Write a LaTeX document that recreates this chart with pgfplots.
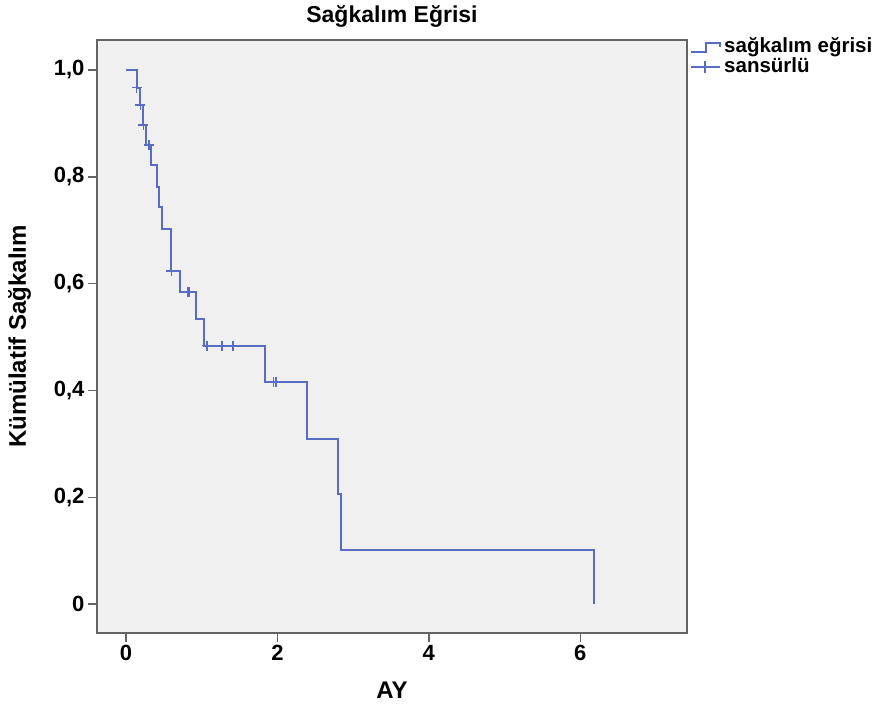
\documentclass[border=0pt]{standalone}
\usepackage{pgfplots}
\pgfplotsset{compat=1.18}
\usepackage{fontspec}
\setmainfont{Liberation Sans}
\definecolor{kmblue}{RGB}{88,108,196}
\definecolor{bggray}{RGB}{240,240,240}
\definecolor{framegray}{RGB}{100,100,100}

\begin{document}
\begin{tikzpicture}
\begin{axis}[
  scale only axis, width=590pt, height=593pt,
  xmin=-0.383, xmax=7.41, ymin=-0.054, ymax=1.056,
  axis background/.style={fill=bggray},
  axis line style={framegray, line width=1.5pt},
  xtick={0,2,4,6}, ytick={0,0.2,0.4,0.6,0.8,1.0},
  yticklabels={0,{0,2},{0,4},{0,6},{0,8},{1,0}},
  tick align=outside, major tick length=9pt,
  tick style={framegray, line width=1.5pt},
  xtick pos=bottom, ytick pos=left,
  /pgf/number format/assume math mode=true,
  ticklabel style={font=\fontsize{22}{24}\selectfont\bfseries},
  title={Sağkalım Eğrisi},
  every axis title shift=0pt,
  title style={font=\fontsize{23}{25}\selectfont\bfseries,
    at={(axis description cs:0.5,1.04)}, anchor=center},
  xlabel={AY}, ylabel={Kümülatif Sağkalım},
  label style={font=\fontsize{24}{26}\selectfont\bfseries},
  xlabel style={at={(axis description cs:0.5,-0.096)}, anchor=center},
  ylabel style={at={(axis description cs:-0.131,0.5)}, anchor=center, rotate=0},
  legend style={at={(axis description cs:1,1)}, anchor=north west, draw=none, fill=none,
    inner sep=0pt, xshift=3pt, yshift=3pt,
    font=\fontsize{20.5}{20.5}\selectfont\bfseries, row sep=0pt,
    nodes={text height=14pt, text depth=4pt, inner ysep=1pt, inner xsep=3pt}},
  legend cell align=left,
]
\addplot[kmblue, line width=2pt, const plot,
  legend image code/.code={\draw[kmblue, line width=2pt] (0pt,-5pt) -- (15pt,-5pt) -- (15pt,4pt) -- (29pt,4pt) -- (29pt,0pt);}]
coordinates {
(0,1) (0.14,0.967) (0.18,0.934) (0.22,0.897) (0.27,0.860) (0.33,0.822)
(0.41,0.781) (0.44,0.744) (0.47,0.703) (0.60,0.624) (0.71,0.584)
(0.93,0.534) (1.03,0.484) (1.84,0.415) (2.39,0.310) (2.80,0.207)
(2.84,0.102) (6.18,0.0)
};
\addlegendentry{sağkalım eğrisi}
\addplot[only marks, mark=+, mark size=5pt, kmblue, mark options={line width=1.6pt},
  legend image code/.code={\draw[kmblue, line width=1.8pt] (0pt,0pt) -- (29pt,0pt); \draw[kmblue, line width=1.8pt] (14pt,-6pt) -- (14pt,6pt);}]
coordinates {
(0.14,0.967) (0.19,0.934) (0.23,0.897) (0.30,0.860) (0.60,0.624)
(0.82,0.584) (0.84,0.584) (1.07,0.484) (1.27,0.484) (1.41,0.484)
(1.95,0.415) (1.98,0.415)
};
\addlegendentry{sansürlü}
\end{axis}
\pgfresetboundingbox
\path[use as bounding box] ([xshift=-97pt,yshift=-78pt]current axis.south west)
  rectangle ([xshift=194pt,yshift=40pt]current axis.north east);
\end{tikzpicture}
\end{document}
